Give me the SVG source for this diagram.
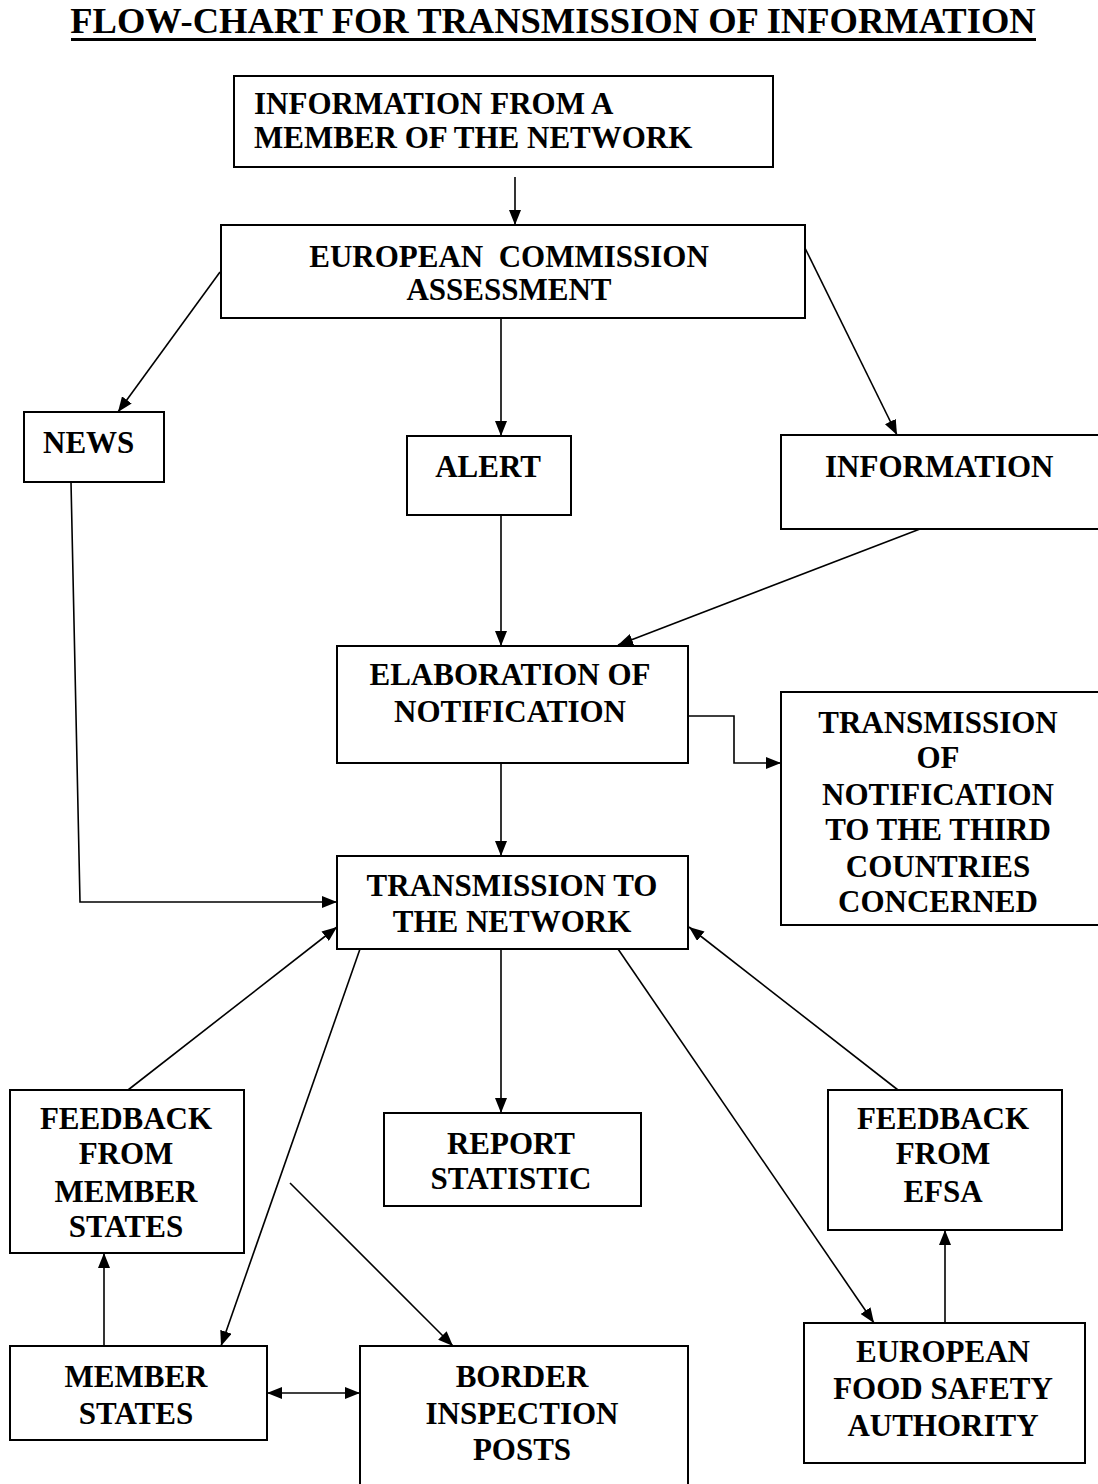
<svg xmlns="http://www.w3.org/2000/svg" width="1098" height="1484" viewBox="0 0 1098 1484">
<style>
  .box { fill: #ffffff; stroke: #000000; stroke-width: 2; }
  .t { font-family: "Liberation Serif", "Times New Roman", serif; font-weight: bold; font-size: 31px; fill: #000000; white-space: pre; }
  .c { text-anchor: middle; }
  .title { font-family: "Liberation Serif", "Times New Roman", serif; font-weight: bold; font-size: 36.5px; fill: #000000; text-anchor: middle; }
  .conn { fill: none; stroke: #000000; stroke-width: 1.6; }
</style>
<defs>
  <marker id="arrow" viewBox="0 0 15 12" refX="15" refY="6" markerWidth="15" markerHeight="12" markerUnits="userSpaceOnUse" orient="auto">
    <path d="M0,0 L15,6 L0,12 Z" fill="#000000"/>
  </marker>
  <marker id="arrowStart" viewBox="0 0 15 12" refX="15" refY="6" markerWidth="15" markerHeight="12" markerUnits="userSpaceOnUse" orient="auto-start-reverse">
    <path d="M0,0 L15,6 L0,12 Z" fill="#000000"/>
  </marker>
</defs>
<rect x="0" y="0" width="1098" height="1484" fill="#ffffff"/>

<g id="title">
  <text class="title" x="553" y="33">FLOW-CHART FOR TRANSMISSION OF INFORMATION</text>
  <rect x="71" y="38" width="965" height="3" fill="#000000"/>
</g>

<g id="connectors">
  <line class="conn" x1="515" y1="177" x2="515" y2="225" marker-end="url(#arrow)"/>
  <line class="conn" x1="220" y1="272" x2="118" y2="412" marker-end="url(#arrow)"/>
  <line class="conn" x1="501" y1="318" x2="501" y2="436" marker-end="url(#arrow)"/>
  <line class="conn" x1="805" y1="248" x2="897" y2="435" marker-end="url(#arrow)"/>
  <line class="conn" x1="501" y1="505" x2="501" y2="646" marker-end="url(#arrow)"/>
  <line class="conn" x1="920" y1="529" x2="618" y2="645" marker-end="url(#arrow)"/>
  <polyline class="conn" points="688,716 734,716 734,763 781,763" marker-end="url(#arrow)"/>
  <line class="conn" x1="501" y1="763" x2="501" y2="856" marker-end="url(#arrow)"/>
  <polyline class="conn" points="71,482 80,902 337,902" marker-end="url(#arrow)"/>
  <line class="conn" x1="128" y1="1090" x2="337" y2="927" marker-end="url(#arrow)"/>
  <line class="conn" x1="360" y1="949" x2="221" y2="1346" marker-end="url(#arrow)"/>
  <line class="conn" x1="501" y1="949" x2="501" y2="1113" marker-end="url(#arrow)"/>
  <line class="conn" x1="618" y1="949" x2="874" y2="1323" marker-end="url(#arrow)"/>
  <line class="conn" x1="898" y1="1090" x2="689" y2="927" marker-end="url(#arrow)"/>
  <line class="conn" x1="290" y1="1183" x2="453" y2="1346" marker-end="url(#arrow)"/>
  <line class="conn" x1="104" y1="1346" x2="104" y2="1253" marker-end="url(#arrow)"/>
  <line class="conn" x1="267" y1="1393" x2="360" y2="1393" marker-start="url(#arrowStart)" marker-end="url(#arrow)"/>
  <line class="conn" x1="945" y1="1323" x2="945" y2="1230" marker-end="url(#arrow)"/>
</g>

<g id="node-info-member">
  <rect class="box" x="234" y="76" width="539" height="91"/>
  <text class="t" x="254" y="114">INFORMATION FROM A</text>
  <text class="t" x="254" y="148">MEMBER OF THE NETWORK</text>
</g>

<g id="node-ec-assessment">
  <rect class="box" x="221" y="225" width="584" height="93"/>
  <text class="t c" x="509" y="267">EUROPEAN  COMMISSION</text>
  <text class="t c" x="509" y="300">ASSESSMENT</text>
</g>

<g id="node-news">
  <rect class="box" x="24" y="412" width="140" height="70"/>
  <text class="t" x="43" y="453">NEWS</text>
</g>

<g id="node-alert">
  <rect class="box" x="407" y="436" width="164" height="79"/>
  <text class="t c" x="488" y="477">ALERT</text>
</g>

<g id="node-information">
  <rect class="box" x="781" y="435" width="330" height="94"/>
  <text class="t" x="825" y="477">INFORMATION</text>
</g>

<g id="node-elaboration">
  <rect class="box" x="337" y="646" width="351" height="117"/>
  <text class="t c" x="510" y="685">ELABORATION OF</text>
  <text class="t c" x="510" y="722">NOTIFICATION</text>
</g>

<g id="node-third-countries">
  <rect class="box" x="781" y="692" width="330" height="233"/>
  <text class="t c" x="938" y="733">TRANSMISSION</text>
  <text class="t c" x="938" y="768">OF</text>
  <text class="t c" x="938" y="805">NOTIFICATION</text>
  <text class="t c" x="938" y="840">TO THE THIRD</text>
  <text class="t c" x="938" y="877">COUNTRIES</text>
  <text class="t c" x="938" y="912">CONCERNED</text>
</g>

<g id="node-transmission-network">
  <rect class="box" x="337" y="856" width="351" height="93"/>
  <text class="t c" x="512" y="896">TRANSMISSION TO</text>
  <text class="t c" x="512" y="932">THE NETWORK</text>
</g>

<g id="node-feedback-ms">
  <rect class="box" x="10" y="1090" width="234" height="163"/>
  <text class="t c" x="126" y="1129">FEEDBACK</text>
  <text class="t c" x="126" y="1164">FROM</text>
  <text class="t c" x="126" y="1202">MEMBER</text>
  <text class="t c" x="126" y="1237">STATES</text>
</g>

<g id="node-report">
  <rect class="box" x="384" y="1113" width="257" height="93"/>
  <text class="t c" x="511" y="1154">REPORT</text>
  <text class="t c" x="511" y="1189">STATISTIC</text>
</g>

<g id="node-feedback-efsa">
  <rect class="box" x="828" y="1090" width="234" height="140"/>
  <text class="t c" x="943" y="1129">FEEDBACK</text>
  <text class="t c" x="943" y="1164">FROM</text>
  <text class="t c" x="943" y="1202">EFSA</text>
</g>

<g id="node-member-states">
  <rect class="box" x="10" y="1346" width="257" height="94"/>
  <text class="t c" x="136" y="1387">MEMBER</text>
  <text class="t c" x="136" y="1424">STATES</text>
</g>

<g id="node-border">
  <rect class="box" x="360" y="1346" width="328" height="160"/>
  <text class="t c" x="522" y="1387">BORDER</text>
  <text class="t c" x="522" y="1424">INSPECTION</text>
  <text class="t c" x="522" y="1460">POSTS</text>
</g>

<g id="node-efsa">
  <rect class="box" x="804" y="1323" width="281" height="140"/>
  <text class="t c" x="943" y="1362">EUROPEAN</text>
  <text class="t c" x="943" y="1399">FOOD SAFETY</text>
  <text class="t c" x="943" y="1436">AUTHORITY</text>
</g>
</svg>
